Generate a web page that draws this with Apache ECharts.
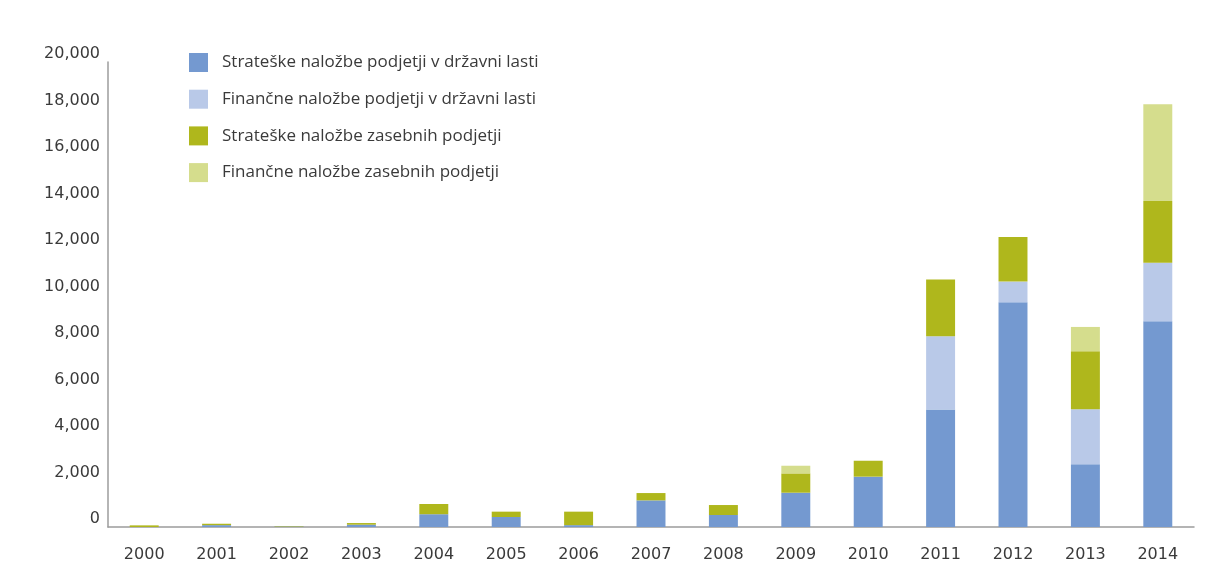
<!DOCTYPE html>
<html>
<head>
<meta charset="utf-8">
<script src="https://cdn.jsdelivr.net/npm/echarts@6/dist/echarts.min.js"></script>
<style>
  html, body { margin: 0; padding: 0; background: #ffffff; }
  #chart { width: 1209px; height: 578px; }
</style>
</head>
<body>
<div id="chart"></div>
<script>
// Years on the category axis
const years = ['2000', '2001', '2002', '2003', '2004', '2005', '2006', '2007',
               '2008', '2009', '2010', '2011', '2012', '2013', '2014'];

// Series names
const seriesNames = [
  'Strateške naložbe podjetji v državni lasti',
  'Finančne naložbe podjetji v državni lasti',
  'Strateške naložbe zasebnih podjetji',
  'Finančne naložbe zasebnih podjetji'
];

// Values per year
const stratDrzavne = [0, 80, 20, 100, 550, 430, 80, 1145, 515, 1475, 2165, 5050, 9665, 2700, 8850];
const financDrzavne = [0, 0, 0, 0, 0, 0, 0, 0, 0, 0, 0, 3150, 890, 2360, 2520];
const stratZasebne = [70, 60, 20, 70, 440, 230, 580, 315, 430, 830, 685, 2440, 1920, 2500, 2650];
const financZasebne = [0, 0, 0, 0, 0, 0, 0, 0, 0, 330, 0, 0, 0, 1045, 4160];

// Value axis ticks
const yMin = 0;
const yMax = 20000;
const yStep = 2000;

const colors = ['#7499d0', '#b9c9e8', '#afb71c', '#d5dd8d'];
const valueSets = [stratDrzavne, financDrzavne, stratZasebne, financZasebne];

const chart = echarts.init(document.getElementById('chart'), null, { renderer: 'canvas' });

chart.setOption({
  animation: false,
  backgroundColor: '#ffffff',
  color: colors,
  grid: { left: 108, right: 15, top: 62, bottom: 51, containLabel: false },
  legend: {
    orient: 'vertical',
    left: 184,
    top: 48,
    itemWidth: 19,
    itemHeight: 19,
    itemGap: 17.7,
    icon: 'rect',
    textStyle: {
      fontFamily: 'Open Sans',
      fontSize: 17,
      color: '#3a3a3a',
      padding: [0, 0, 0, 9]
    },
    data: seriesNames
  },
  xAxis: {
    type: 'category',
    data: years,
    axisLine: { show: true, lineStyle: { color: '#9c9c9c', width: 1.5 } },
    axisTick: { show: false },
    axisLabel: {
      margin: 20,
      fontFamily: 'DejaVu Sans',
      fontSize: 16,
      color: '#3a3a3a'
    }
  },
  yAxis: {
    type: 'value',
    min: yMin,
    max: yMax,
    interval: yStep,
    axisLine: { show: true, lineStyle: { color: '#9c9c9c', width: 1.5 } },
    axisTick: { show: false },
    splitLine: { show: false },
    axisLabel: {
      margin: 8,
      fontFamily: 'DejaVu Sans',
      fontSize: 16,
      color: '#3a3a3a',
      verticalAlign: 'bottom',
      formatter: v => v.toLocaleString('en-US')
    }
  },
  series: seriesNames.map((name, i) => ({
    name,
    type: 'bar',
    stack: 'total',
    barWidth: '40%',
    data: valueSets[i],
    itemStyle: { color: colors[i] }
  }))
});
</script>
</body>
</html>
